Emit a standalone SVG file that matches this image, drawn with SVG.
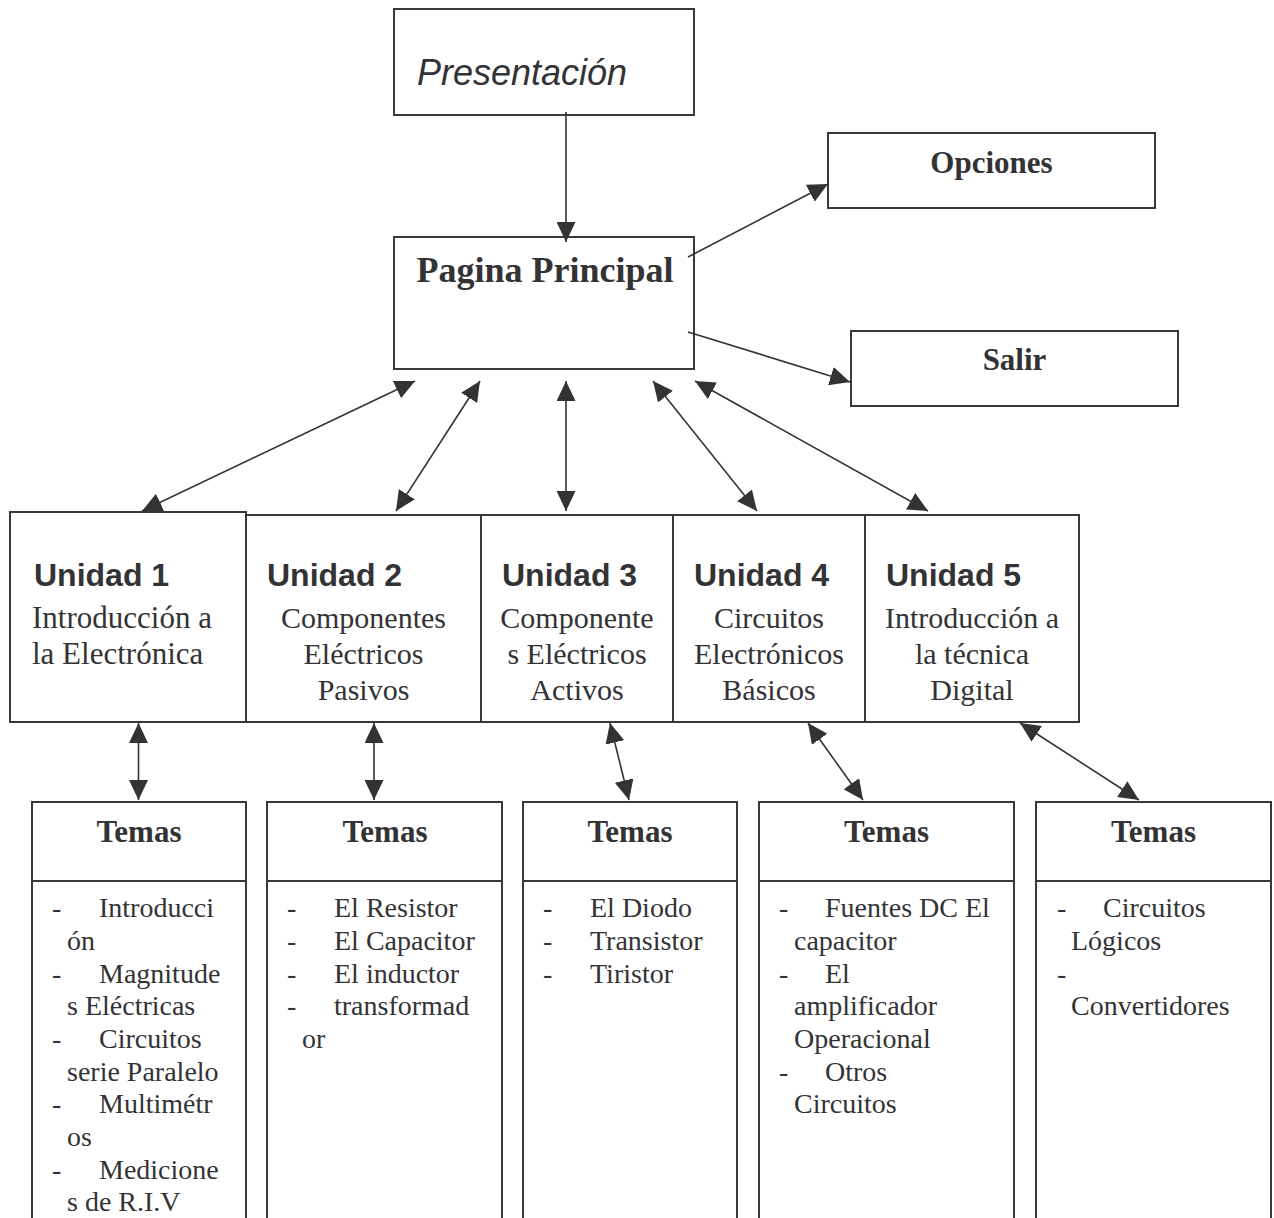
<svg xmlns="http://www.w3.org/2000/svg" width="1274" height="1218" viewBox="0 0 1274 1218">
  <defs>
    <marker id="ah" viewBox="0 0 20 19" refX="20" refY="9.5" markerWidth="20" markerHeight="19" markerUnits="userSpaceOnUse" orient="auto-start-reverse">
      <path d="M0,0 L20,9.5 L0,19 z" fill="#333336"/>
    </marker>
    <style>
      .box { fill: #ffffff; stroke: #38383b; stroke-width: 2; }
      .line { fill: none; stroke: #333336; stroke-width: 1.6; }
      .one { marker-end: url(#ah); }
      .two { marker-start: url(#ah); marker-end: url(#ah); }
      .serif { font-family: "Liberation Serif", "Times New Roman", serif; fill: #333336; }
      .sans { font-family: "Liberation Sans", Arial, sans-serif; fill: #333336; }
      .title { font-size: 36px; font-weight: bold; }
      .label { font-size: 31px; font-weight: bold; }
      .unit { font-size: 32px; font-weight: bold; }
      .desc { font-size: 30px; }
      .desc-lg { font-size: 31px; }
      .item { font-size: 28px; }
    </style>
  </defs>

  <!-- top level -->
  <g id="presentacion">
    <rect class="box" x="394" y="9" width="300" height="106"/>
    <text class="sans" x="417" y="85" font-size="36" font-style="italic">Presentación</text>
  </g>

  <g id="pagina-principal">
    <rect class="box" x="394" y="237" width="300" height="132"/>
    <text class="serif title" x="545" y="282" text-anchor="middle">Pagina Principal</text>
  </g>

  <g id="opciones">
    <rect class="box" x="828" y="133" width="327" height="75"/>
    <text class="serif label" x="991.5" y="173" text-anchor="middle">Opciones</text>
  </g>

  <g id="salir">
    <rect class="box" x="851" y="331" width="327" height="75"/>
    <text class="serif label" x="1014.5" y="370" text-anchor="middle">Salir</text>
  </g>

  <!-- units -->
  <g id="unidad-1">
    <rect class="box" x="10" y="512" width="236" height="210"/>
    <text class="sans unit" x="34" y="586">Unidad 1</text>
    <text class="serif desc-lg" x="32" y="628">Introducción a</text>
    <text class="serif desc-lg" x="32" y="664">la Electrónica</text>
  </g>

  <g id="unidad-2">
    <rect class="box" x="246" y="515" width="235" height="207"/>
    <text class="sans unit" x="267" y="586">Unidad 2</text>
    <text class="serif desc" text-anchor="middle" x="363.5" y="628">Componentes</text>
    <text class="serif desc" text-anchor="middle" x="363.5" y="664">Eléctricos</text>
    <text class="serif desc" text-anchor="middle" x="363.5" y="700">Pasivos</text>
  </g>

  <g id="unidad-3">
    <rect class="box" x="481" y="515" width="192" height="207"/>
    <text class="sans unit" x="502" y="586">Unidad 3</text>
    <text class="serif desc" text-anchor="middle" x="577" y="628">Componente</text>
    <text class="serif desc" text-anchor="middle" x="577" y="664">s Eléctricos</text>
    <text class="serif desc" text-anchor="middle" x="577" y="700">Activos</text>
  </g>

  <g id="unidad-4">
    <rect class="box" x="673" y="515" width="192" height="207"/>
    <text class="sans unit" x="694" y="586">Unidad 4</text>
    <text class="serif desc" text-anchor="middle" x="769" y="628">Circuitos</text>
    <text class="serif desc" text-anchor="middle" x="769" y="664">Electrónicos</text>
    <text class="serif desc" text-anchor="middle" x="769" y="700">Básicos</text>
  </g>

  <g id="unidad-5">
    <rect class="box" x="865" y="515" width="214" height="207"/>
    <text class="sans unit" x="886" y="586">Unidad 5</text>
    <text class="serif desc" text-anchor="middle" x="972" y="628">Introducción a</text>
    <text class="serif desc" text-anchor="middle" x="972" y="664">la técnica</text>
    <text class="serif desc" text-anchor="middle" x="972" y="700">Digital</text>
  </g>

  <!-- topic lists (run past the bottom edge) -->
  <g id="temas-1">
    <rect class="box" x="32" y="802" width="214" height="440"/>
    <line class="box" x1="32" y1="881" x2="246" y2="881"/>
    <text class="serif label" x="139" y="842" text-anchor="middle">Temas</text>
    <text class="serif item">
      <tspan x="52" y="917">-</tspan><tspan x="99" y="917">Introducci</tspan>
      <tspan x="67" y="950">ón</tspan>
      <tspan x="52" y="982.5">-</tspan><tspan x="99" y="982.5">Magnitude</tspan>
      <tspan x="67" y="1015">s Eléctricas</tspan>
      <tspan x="52" y="1048">-</tspan><tspan x="99" y="1048">Circuitos</tspan>
      <tspan x="67" y="1080.5">serie Paralelo</tspan>
      <tspan x="52" y="1113">-</tspan><tspan x="99" y="1113">Multimétr</tspan>
      <tspan x="67" y="1146">os</tspan>
      <tspan x="52" y="1178.5">-</tspan><tspan x="99" y="1178.5">Medicione</tspan>
      <tspan x="67" y="1211">s de R.I.V</tspan>
    </text>
  </g>

  <g id="temas-2">
    <rect class="box" x="267" y="802" width="235" height="440"/>
    <line class="box" x1="267" y1="881" x2="502" y2="881"/>
    <text class="serif label" x="385" y="842" text-anchor="middle">Temas</text>
    <text class="serif item">
      <tspan x="287" y="917">-</tspan><tspan x="334" y="917">El Resistor</tspan>
      <tspan x="287" y="950">-</tspan><tspan x="334" y="950">El Capacitor</tspan>
      <tspan x="287" y="982.5">-</tspan><tspan x="334" y="982.5">El inductor</tspan>
      <tspan x="287" y="1015">-</tspan><tspan x="334" y="1015">transformad</tspan>
      <tspan x="302" y="1048">or</tspan>
    </text>
  </g>

  <g id="temas-3">
    <rect class="box" x="523" y="802" width="214" height="440"/>
    <line class="box" x1="523" y1="881" x2="737" y2="881"/>
    <text class="serif label" x="630" y="842" text-anchor="middle">Temas</text>
    <text class="serif item">
      <tspan x="543" y="917">-</tspan><tspan x="590" y="917">El Diodo</tspan>
      <tspan x="543" y="950">-</tspan><tspan x="590" y="950">Transistor</tspan>
      <tspan x="543" y="982.5">-</tspan><tspan x="590" y="982.5">Tiristor</tspan>
    </text>
  </g>

  <g id="temas-4">
    <rect class="box" x="759" y="802" width="255" height="440"/>
    <line class="box" x1="759" y1="881" x2="1014" y2="881"/>
    <text class="serif label" x="886.5" y="842" text-anchor="middle">Temas</text>
    <text class="serif item">
      <tspan x="779" y="917">-</tspan><tspan x="825" y="917">Fuentes DC El</tspan>
      <tspan x="794" y="950">capacitor</tspan>
      <tspan x="779" y="982.5">-</tspan><tspan x="825" y="982.5">El</tspan>
      <tspan x="794" y="1015">amplificador</tspan>
      <tspan x="794" y="1048">Operacional</tspan>
      <tspan x="779" y="1080.5">-</tspan><tspan x="825" y="1080.5">Otros</tspan>
      <tspan x="794" y="1113">Circuitos</tspan>
    </text>
  </g>

  <g id="temas-5">
    <rect class="box" x="1036" y="802" width="235" height="440"/>
    <line class="box" x1="1036" y1="881" x2="1271" y2="881"/>
    <text class="serif label" x="1153.5" y="842" text-anchor="middle">Temas</text>
    <text class="serif item">
      <tspan x="1057" y="917">-</tspan><tspan x="1103" y="917">Circuitos</tspan>
      <tspan x="1071" y="950">Lógicos</tspan>
      <tspan x="1057" y="982.5">-</tspan>
      <tspan x="1071" y="1015">Convertidores</tspan>
    </text>
  </g>

  <!-- connectors -->
  <g id="connectors">
    <line class="line one" x1="566" y1="112" x2="566" y2="242"/>
    <line class="line one" x1="688" y1="257" x2="828" y2="184"/>
    <line class="line one" x1="688" y1="332" x2="850" y2="382"/>

    <line class="line two" x1="142" y1="511" x2="415" y2="381"/>
    <line class="line two" x1="396" y1="511" x2="480" y2="381"/>
    <line class="line two" x1="566" y1="511" x2="566" y2="381"/>
    <line class="line two" x1="757" y1="511" x2="653" y2="381"/>
    <line class="line two" x1="928" y1="511" x2="695" y2="381"/>

    <line class="line two" x1="138.5" y1="723" x2="138.5" y2="800"/>
    <line class="line two" x1="374" y1="723" x2="374" y2="800"/>
    <line class="line two" x1="610" y1="723" x2="629" y2="800"/>
    <line class="line two" x1="808" y1="723" x2="863" y2="800"/>
    <line class="line two" x1="1020" y1="723" x2="1139" y2="800"/>
  </g>
</svg>
